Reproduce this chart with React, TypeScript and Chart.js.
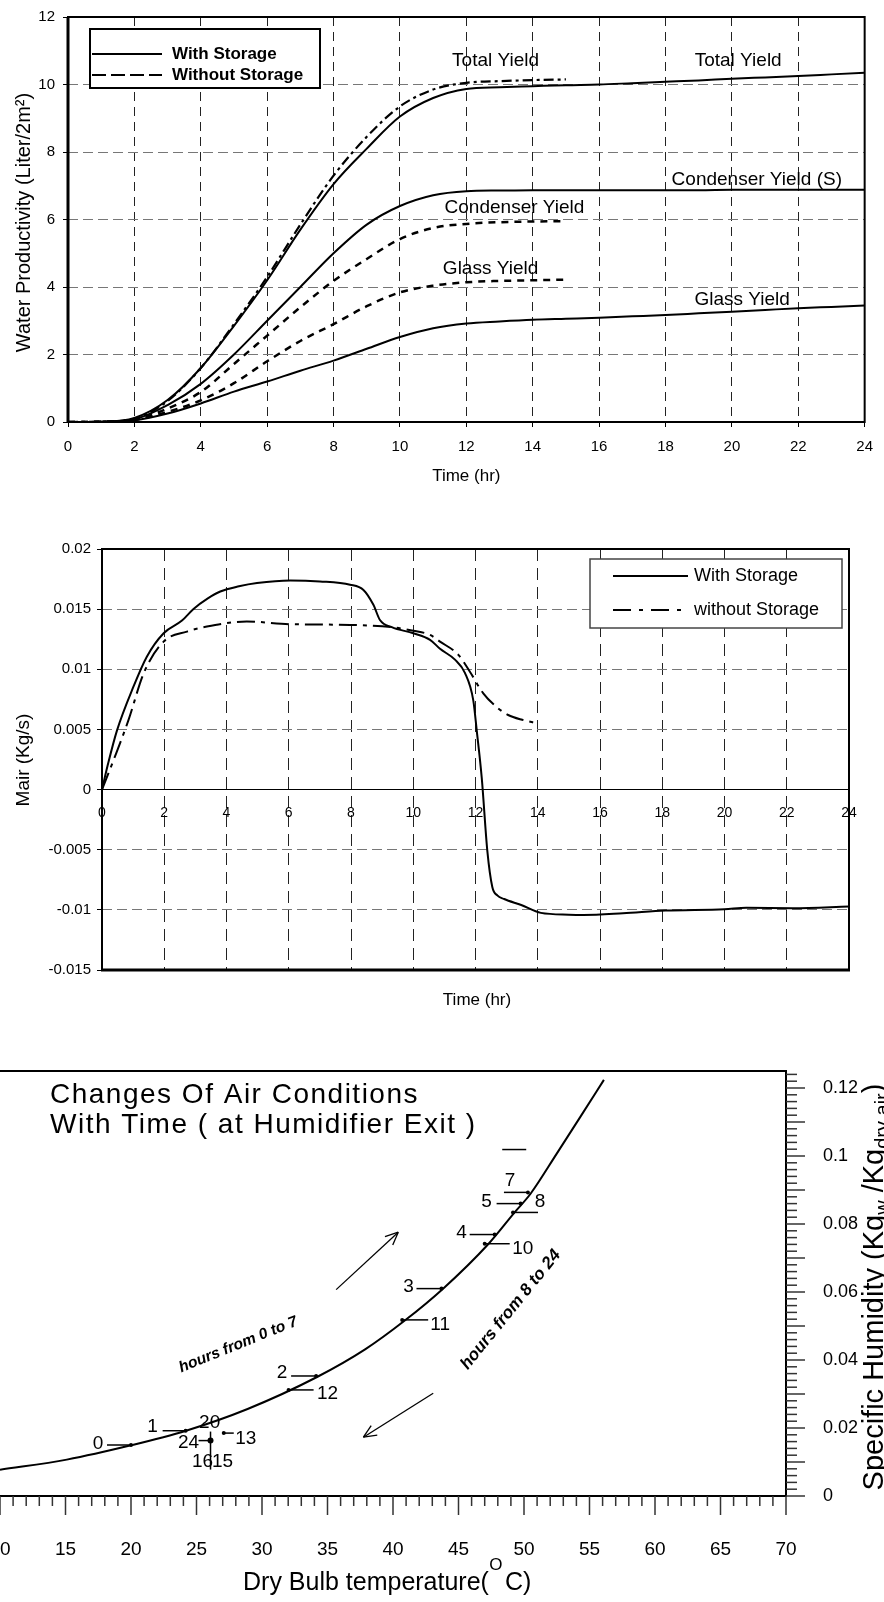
import React, { useEffect, useRef } from 'react';
import { Chart, registerables } from 'chart.js';
Chart.register(...registerables);

const FONT = "Arial, 'Liberation Sans', Helvetica, sans-serif";

// ---------- Chart 1: water productivity ----------
const hoursWith = [0, 1, 2, 3, 4, 5, 6, 7, 8, 9, 10, 11, 12, 13, 14, 15, 16, 17, 18, 19, 20, 21, 22, 23, 24];
const totalWith = [0, 0.01, 0.12, 0.65, 1.6, 2.85, 4.2, 5.7, 7.05, 8.1, 9.05, 9.6, 9.87, 9.92, 9.95, 9.98, 10.0, 10.04, 10.08, 10.12, 10.17, 10.21, 10.25, 10.3, 10.35];
const condWith = [0, 0.01, 0.08, 0.5, 1.13, 2.0, 3.0, 4.0, 5.0, 5.85, 6.4, 6.72, 6.84, 6.86, 6.87, 6.87, 6.87, 6.87, 6.87, 6.87, 6.88, 6.88, 6.88, 6.88, 6.88];
const glassWith = [0, 0.0, 0.05, 0.25, 0.55, 0.9, 1.2, 1.52, 1.82, 2.17, 2.52, 2.78, 2.92, 2.98, 3.03, 3.06, 3.09, 3.13, 3.17, 3.22, 3.27, 3.32, 3.37, 3.41, 3.45];
const hoursWithout = [0, 1, 2, 3, 4, 5, 6, 7, 8, 9, 10, 11, 12, 13, 14, 15];
const totalWithout = [0, 0.01, 0.1, 0.62, 1.6, 2.9, 4.3, 5.85, 7.3, 8.45, 9.35, 9.85, 10.05, 10.1, 10.13, 10.15];
const condWithout = [0, 0.01, 0.07, 0.4, 0.89, 1.72, 2.56, 3.4, 4.18, 4.83, 5.42, 5.75, 5.87, 5.92, 5.94, 5.95];
const glassWithout = [0, 0.0, 0.06, 0.3, 0.64, 1.15, 1.8, 2.4, 2.9, 3.43, 3.84, 4.04, 4.14, 4.18, 4.2, 4.22];
const curveLabels1 = ['Total Yield', 'Total Yield', 'Condenser Yield (S)', 'Condenser Yield', 'Glass Yield', 'Glass Yield'];
const curveLabelHour = [12.88, 20.19, 20.75, 13.45, 12.73, 20.31];
const curveLabelValue = [10.69, 10.69, 7.18, 6.35, 4.54, 3.63];

// ---------- Chart 2: air mass flow ----------
const mairWithTime = [0, 0.2, 0.48, 1.01, 1.44, 1.98, 2.57, 2.94, 3.4, 3.8, 4.4, 4.98, 6.05, 7.0, 7.97, 8.4, 8.72, 8.93, 9.31, 10.0, 10.54, 10.86, 11.34, 11.66, 11.93, 12.04, 12.2, 12.38, 12.54, 12.7, 12.92, 13.47, 14.1, 15.0, 15.47, 16.74, 18.1, 20.0, 20.7, 22.2, 24];
const mairWithVal = [0, 0.0022, 0.0049, 0.00855, 0.01105, 0.013, 0.01405, 0.01502, 0.0159, 0.01647, 0.0169, 0.01717, 0.01738, 0.0173, 0.01703, 0.0166, 0.01536, 0.0141, 0.0135, 0.013, 0.01245, 0.0117, 0.0108, 0.0097, 0.0074, 0.0049, 0.001, -0.0051, -0.0081, -0.0088, -0.0091, -0.0096, -0.01025, -0.0104, -0.01042, -0.01028, -0.01006, -0.00995, -0.00983, -0.00986, -0.00972];
const mairWithoutTime = [0, 0.37, 0.85, 1.34, 1.98, 2.73, 3.37, 4.65, 6.05, 7.97, 9.31, 10.0, 10.54, 10.86, 11.45, 11.82, 12.25, 12.73, 13.05, 13.5, 14.0];
const mairWithoutVal = [0, 0.00244, 0.00577, 0.00967, 0.0123, 0.01313, 0.01355, 0.01397, 0.01375, 0.01369, 0.0135, 0.0132, 0.01286, 0.0123, 0.0112, 0.0098, 0.008, 0.00675, 0.0062, 0.0058, 0.0055];

// ---------- Chart 3: air conditions ----------
const satTemp = [10, 15.1, 20.0, 24.2, 28.9, 34.2, 37.9, 40.9, 43.8, 47.3, 49.3, 50.5, 52.5, 54.3, 56.1];
const satHum = [0.0077, 0.0107, 0.0149, 0.0192, 0.0256, 0.035, 0.0432, 0.0516, 0.0609, 0.0742, 0.0835, 0.0889, 0.1007, 0.1115, 0.1224];
const hourLabels = ['0', '1', '2', '3', '4', '5', '6', '7', '8', '10', '11', '12', '13', '20', '24', '16', '15'];
const hourTemp = [20.0, 24.17, 34.13, 43.7, 47.76, 49.74, 50.17, 50.3, 49.16, 47.0, 40.7, 32.03, 27.08, 24.17, 26.07, 26.07, 26.07];
const hourHum = [0.015, 0.0192, 0.0353, 0.061, 0.0769, 0.086, 0.1019, 0.0893, 0.0834, 0.0742, 0.0518, 0.0312, 0.0185, 0.0192, 0.0163, 0.0163, 0.0163];

// marker styles (pixel offsets), aligned with hourLabels
const markerStyle: any[] = [
  { seg: -24, dx: -33, dy: -1, dot: true },
  { seg: -23, dx: -33, dy: -4, dot: true },
  { seg: -25, dx: -34, dy: -3, dot: true },
  { seg: -25, dx: -33, dy: -2, dot: true },
  { seg: -25, dx: -33, dy: -2, dot: true },
  { seg: -24, dx: -34, dy: -2, dot: true },
  { seg: -24, dot: false, hide: true },
  { seg: -24, dx: -18, dy: -12, dot: true },
  { seg: 25, dx: 27, dy: -11, dot: true },
  { seg: 25, dx: 38, dy: 5, dot: true },
  { seg: 26, dx: 38, dy: 5, dot: true },
  { seg: 25, dx: 39, dy: 4, dot: true },
  { seg: 10, dx: 22, dy: 6, dot: true },
  { seg: 0, dx: 24, dy: -8, dot: false },
  { seg: -12, dx: -22, dy: 2, dot: true, r: 3 },
  { seg: 0, vseg: [-9, 29], dx: -8, dy: 21, dot: false },
  { seg: 0, dx: 12, dy: 21, dot: false },
];
const arrowFrom = [[35.66, 0.0607], [43.07, 0.0302]];
const arrowTo = [[40.4, 0.0776], [37.74, 0.0173]];
const rotTexts = ['hours from 0 to 7', 'hours from 8 to 24'];
const rotTextPos = [[28.19, 0.0445], [48.99, 0.0548]];
const rotTextAngle = [-22, -51];
const rotTextSize = [15.5, 17];

const pts = (xs: number[], ys: number[]) => xs.map((x, i) => ({ x, y: ys[i] }));

function line(ctx: any, x1: number, y1: number, x2: number, y2: number) {
  ctx.beginPath();
  ctx.moveTo(x1, y1);
  ctx.lineTo(x2, y2);
  ctx.stroke();
}

function rotText(ctx: any, text: string, x: number, y: number, angleDeg: number, font: string) {
  ctx.save();
  ctx.translate(x, y);
  ctx.rotate((angleDeg * Math.PI) / 180);
  ctx.font = font;
  ctx.textAlign = 'center';
  ctx.textBaseline = 'middle';
  ctx.fillText(text, 0, 0);
  ctx.restore();
}

// ---------- chart 1 config ----------
function makeChart1(): any {
  const ds = (label: string, xs: number[], ys: number[], dash: number[], w = 2) => ({
    label,
    data: pts(xs, ys),
    borderColor: '#000',
    borderWidth: w,
    borderDash: dash,
    pointRadius: 0,
    fill: false,
    cubicInterpolationMode: 'monotone',
  });
  const deco = {
    id: 'deco1',
    afterDraw(chart: any) {
      const { ctx, chartArea: a, scales } = chart;
      const sx = scales.x, sy = scales.y;
      ctx.save();
      ctx.strokeStyle = '#000';
      ctx.lineWidth = 2;
      ctx.strokeRect(a.left, a.top, a.right - a.left, a.bottom - a.top);
      ctx.lineWidth = 3;
      line(ctx, a.left, a.top, a.left, a.bottom);
      // curve labels
      ctx.fillStyle = '#000';
      ctx.font = `19px ${FONT}`;
      ctx.textAlign = 'center';
      ctx.textBaseline = 'middle';
      curveLabels1.forEach((t, i) => {
        ctx.fillText(t, sx.getPixelForValue(curveLabelHour[i]), sy.getPixelForValue(curveLabelValue[i]));
      });
      // legend
      const lx = a.left + 22, ly = a.top + 12;
      ctx.fillStyle = '#fff';
      ctx.fillRect(lx, ly, 230, 59);
      ctx.lineWidth = 2;
      ctx.strokeRect(lx, ly, 230, 59);
      ctx.lineWidth = 2;
      line(ctx, lx + 2, ly + 25, lx + 72, ly + 25);
      ctx.setLineDash([14, 5]);
      line(ctx, lx + 2, ly + 46, lx + 72, ly + 46);
      ctx.setLineDash([]);
      ctx.fillStyle = '#000';
      ctx.font = `bold 17px ${FONT}`;
      ctx.textAlign = 'left';
      ctx.fillText('With Storage', lx + 82, ly + 25);
      ctx.fillText('Without Storage', lx + 82, ly + 46);
      // axis titles
      ctx.font = `17px ${FONT}`;
      ctx.textAlign = 'center';
      ctx.fillText('Time (hr)', (a.left + a.right) / 2, a.bottom + 54);
      rotText(ctx, 'Water Productivity (Liter/2m²)', 24, (a.top + a.bottom) / 2 + 3, -90, `20px ${FONT}`);
      ctx.restore();
    },
  };
  return {
    type: 'line',
    data: {
      datasets: [
        ds('Total with storage', hoursWith, totalWith, []),
        ds('Condenser with storage', hoursWith, condWith, []),
        ds('Glass with storage', hoursWith, glassWith, []),
        ds('Total without storage', hoursWithout, totalWithout, [10, 4, 3, 4], 2.2),
        ds('Condenser without storage', hoursWithout, condWithout, [7, 6], 2.5),
        ds('Glass without storage', hoursWithout, glassWithout, [7, 6], 2.5),
      ],
    },
    options: {
      responsive: false,
      animation: false,
      events: [],
      devicePixelRatio: 1,
      layout: { padding: { left: 0, top: 12, right: 14, bottom: 0 } },
      plugins: { legend: { display: false }, tooltip: { enabled: false } },
      scales: {
        x: {
          type: 'linear', min: 0, max: 24,
          afterFit: (s: any) => { s.height = 68; },
          ticks: { stepSize: 2, color: '#000', font: { family: FONT, size: 15 }, padding: 11, maxRotation: 0, autoSkip: false },
          grid: { color: '#222', lineWidth: 1, tickLength: 5, tickColor: '#000' },
          border: { display: false, dash: [9, 6] },
        },
        y: {
          type: 'linear', min: 0, max: 12,
          afterFit: (s: any) => { s.width = 68; },
          ticks: { stepSize: 2, color: '#000', font: { family: FONT, size: 15 }, padding: 8 },
          grid: { color: '#777', lineWidth: 1, tickLength: 5, tickColor: '#000' },
          border: { display: false, dash: [10, 5] },
        },
      },
    },
    plugins: [deco],
  };
}

// ---------- chart 2 config ----------
function makeChart2(): any {
  const deco = {
    id: 'deco2',
    afterDraw(chart: any) {
      const { ctx, chartArea: a } = chart;
      ctx.save();
      ctx.strokeStyle = '#000';
      ctx.lineWidth = 2;
      ctx.strokeRect(a.left, a.top, a.right - a.left, a.bottom - a.top);
      ctx.lineWidth = 3;
      line(ctx, a.left - 1, a.bottom, a.right + 1, a.bottom);
      // legend
      const lx = a.left + 488, ly = a.top + 10;
      ctx.fillStyle = '#fff';
      ctx.fillRect(lx, ly, 252, 69);
      ctx.strokeStyle = '#444';
      ctx.lineWidth = 1.5;
      ctx.strokeRect(lx, ly, 252, 69);
      ctx.strokeStyle = '#000';
      ctx.lineWidth = 2;
      line(ctx, lx + 23, ly + 17, lx + 98, ly + 17);
      ctx.setLineDash([18, 8, 4, 8]);
      line(ctx, lx + 23, ly + 51, lx + 98, ly + 51);
      ctx.setLineDash([]);
      ctx.fillStyle = '#000';
      ctx.font = `18px ${FONT}`;
      ctx.textAlign = 'left';
      ctx.textBaseline = 'middle';
      ctx.fillText('With Storage', lx + 104, ly + 17);
      ctx.fillText('without Storage', lx + 104, ly + 51);
      // titles
      ctx.font = `17px ${FONT}`;
      ctx.textAlign = 'center';
      ctx.fillText('Time (hr)', 477, a.bottom + 30);
      rotText(ctx, 'Mair (Kg/s)', 24, 260, -90, `19px ${FONT}`);
      ctx.restore();
    },
  };
  return {
    type: 'line',
    data: {
      datasets: [
        { label: 'With Storage', data: pts(mairWithTime, mairWithVal), borderColor: '#000', borderWidth: 2, pointRadius: 0, fill: false, cubicInterpolationMode: 'monotone' },
        { label: 'without Storage', data: pts(mairWithoutTime, mairWithoutVal), borderColor: '#000', borderWidth: 2, borderDash: [18, 6, 4, 6], pointRadius: 0, fill: false, cubicInterpolationMode: 'monotone' },
      ],
    },
    options: {
      responsive: false,
      animation: false,
      events: [],
      devicePixelRatio: 1,
      layout: { padding: { left: 0, top: 49, right: 35, bottom: 50 } },
      plugins: { legend: { display: false }, tooltip: { enabled: false } },
      scales: {
        x: {
          type: 'linear', min: 0, max: 24, position: { y: 0 },
          ticks: { stepSize: 2, color: '#000', font: { family: FONT, size: 14 }, padding: 15, maxRotation: 0, autoSkip: false },
          grid: { color: '#222', lineWidth: 1, drawTicks: false },
          border: { display: true, color: '#000', width: 1, dash: [12, 7] },
        },
        y: {
          type: 'linear', min: -0.015, max: 0.02,
          afterFit: (s: any) => { s.width = 102; },
          ticks: {
            stepSize: 0.005, color: '#000', font: { family: FONT, size: 15 }, padding: 6,
            callback: (v: any) => { const r = Math.round(v * 1000) / 1000; return r === 0 ? '0' : String(r); },
          },
          grid: { color: '#777', lineWidth: 1, tickLength: 5, tickColor: '#000' },
          border: { display: false, dash: [10, 5] },
        },
      },
    },
    plugins: [deco],
  };
}

// ---------- chart 3 config ----------
function makeChart3(): any {
  const deco = {
    id: 'deco3',
    afterDraw(chart: any) {
      const { ctx, chartArea: a, scales } = chart;
      const sx = scales.x, sy = scales.y;
      ctx.save();
      ctx.strokeStyle = '#000';
      ctx.lineWidth = 2;
      line(ctx, 0, a.top, a.right + 1, a.top);
      // axis tick marks
      ctx.strokeStyle = '#333';
      ctx.lineWidth = 1.5;
      for (let t = 10; t <= 70; t++) {
        const px = sx.getPixelForValue(t);
        line(ctx, px, a.bottom, px, a.bottom + (t % 5 === 0 ? 19 : 10));
      }
      for (let k = 0; k <= 62; k++) {
        const py = sy.getPixelForValue(k * 0.002);
        line(ctx, a.right, py, a.right + (k % 5 === 0 ? 19 : 11), py);
      }
      // x tick labels (from the scale's own ticks)
      ctx.fillStyle = '#000';
      ctx.font = `19px ${FONT}`;
      ctx.textAlign = 'center';
      ctx.textBaseline = 'middle';
      sx.ticks.forEach((t: any) => {
        ctx.fillText(String(t.value), sx.getPixelForValue(t.value), a.bottom + 54);
      });
      // hour markers
      ctx.strokeStyle = '#000';
      ctx.lineWidth = 1.5;
      hourLabels.forEach((lab, i) => {
        const st = markerStyle[i];
        const px = sx.getPixelForValue(hourTemp[i]);
        const py = sy.getPixelForValue(hourHum[i]);
        if (st.seg) line(ctx, px, py, px + st.seg, py);
        if (st.vseg) line(ctx, px, py + st.vseg[0], px, py + st.vseg[1]);
        if (st.dot) {
          ctx.beginPath();
          ctx.arc(px, py, st.r || 2, 0, Math.PI * 2);
          ctx.fill();
        }
        if (!st.hide) ctx.fillText(lab, px + st.dx, py + st.dy);
      });
      // arrows
      ctx.lineWidth = 1.3;
      arrowFrom.forEach((f, i) => {
        const x1 = sx.getPixelForValue(f[0]), y1 = sy.getPixelForValue(f[1]);
        const x2 = sx.getPixelForValue(arrowTo[i][0]), y2 = sy.getPixelForValue(arrowTo[i][1]);
        line(ctx, x1, y1, x2, y2);
        const ang = Math.atan2(y2 - y1, x2 - x1);
        const hl = 14, ha = 0.42;
        line(ctx, x2, y2, x2 - hl * Math.cos(ang - ha), y2 - hl * Math.sin(ang - ha));
        line(ctx, x2, y2, x2 - hl * Math.cos(ang + ha), y2 - hl * Math.sin(ang + ha));
      });
      // rotated labels
      rotTexts.forEach((t, i) => {
        rotText(ctx, t, sx.getPixelForValue(rotTextPos[i][0]), sy.getPixelForValue(rotTextPos[i][1]), rotTextAngle[i], `italic bold ${rotTextSize[i]}px ${FONT}`);
      });
      // title
      ctx.font = `28px ${FONT}`;
      (ctx as any).letterSpacing = '1.5px';
      ctx.textAlign = 'left';
      ctx.fillText('Changes Of Air Conditions', a.left + 50, a.top + 24);
      ctx.fillText('With Time ( at Humidifier Exit )', a.left + 50, a.top + 54);
      (ctx as any).letterSpacing = '0px';
      // x title
      const xt = a.left + 243, yt = a.bottom + 87;
      ctx.font = `25px ${FONT}`;
      const p1 = 'Dry Bulb temperature(';
      const w1 = ctx.measureText(p1).width;
      ctx.fillText(p1, xt, yt);
      ctx.font = `17px ${FONT}`;
      ctx.textAlign = 'center';
      ctx.fillText('O', xt + w1 + 7, yt - 18);
      ctx.font = `25px ${FONT}`;
      ctx.textAlign = 'left';
      ctx.fillText('C)', xt + w1 + 16, yt);
      // right axis title
      ctx.save();
      ctx.translate(a.right + 97, 267);
      ctx.rotate(-Math.PI / 2);
      ctx.textBaseline = 'alphabetic';
      const parts: [string, number, number][] = [
        ['Specific Humidity (Kg', 29, 0],
        ['w', 20, 6],
        [' /Kg', 29, 0],
        ['dry air', 20, 6],
        [')', 29, 0],
      ];
      let total = 0;
      parts.forEach((p) => { ctx.font = `${p[1]}px ${FONT}`; total += ctx.measureText(p[0]).width; });
      let cx = -total / 2;
      parts.forEach((p) => {
        ctx.font = `${p[1]}px ${FONT}`;
        ctx.fillText(p[0], cx, p[2]);
        cx += ctx.measureText(p[0]).width;
      });
      ctx.restore();
      ctx.restore();
    },
  };
  return {
    type: 'line',
    data: {
      datasets: [
        { label: 'Saturation', data: pts(satTemp, satHum), borderColor: '#000', borderWidth: 2, pointRadius: 0, fill: false, cubicInterpolationMode: 'monotone' },
      ],
    },
    options: {
      responsive: false,
      animation: false,
      events: [],
      devicePixelRatio: 1,
      layout: { padding: { left: 40, top: 51, right: 0, bottom: 0 } },
      plugins: { legend: { display: false }, tooltip: { enabled: false } },
      scales: {
        x: {
          type: 'linear', min: 10, max: 70,
          afterFit: (s: any) => { s.height = 106; },
          ticks: { display: false, stepSize: 5, padding: 0, maxRotation: 0, autoSkip: false },
          grid: { display: false },
          border: { display: true, color: '#000', width: 2 },
        },
        y: {
          type: 'linear', position: 'right', min: 0, max: 0.125,
          afterFit: (s: any) => { s.width = 134; },
          ticks: {
            stepSize: 0.02, includeBounds: false, color: '#000', font: { family: FONT, size: 18 }, padding: 29, autoSkip: false,
            callback: (v: any) => {
              const r = Math.round(v * 1000) / 1000;
              if (Math.abs(r * 50 - Math.round(r * 50)) > 1e-6) return '';
              return String(r);
            },
          },
          grid: { display: false },
          border: { display: true, color: '#000', width: 2 },
        },
      },
    },
    plugins: [deco],
  };
}

function ChartCanvas({ width, height, left, top, make }: any) {
  const ref = useRef<HTMLCanvasElement>(null);
  useEffect(() => {
    const chart = new Chart(ref.current as HTMLCanvasElement, make());
    return () => chart.destroy();
  }, []);
  return (
    <canvas
      ref={ref}
      width={width}
      height={height}
      style={{ position: 'absolute', left, top, width, height, display: 'block' }}
    />
  );
}

export default function App() {
  return (
    <div style={{ position: 'absolute', left: 0, top: 0, width: 884, height: 1602, overflow: 'hidden', background: '#fff' }}>
      <ChartCanvas width={884} height={490} left={0} top={0} make={makeChart1} />
      <ChartCanvas width={884} height={520} left={0} top={500} make={makeChart2} />
      <ChartCanvas width={960} height={582} left={-40} top={1020} make={makeChart3} />
    </div>
  );
}
